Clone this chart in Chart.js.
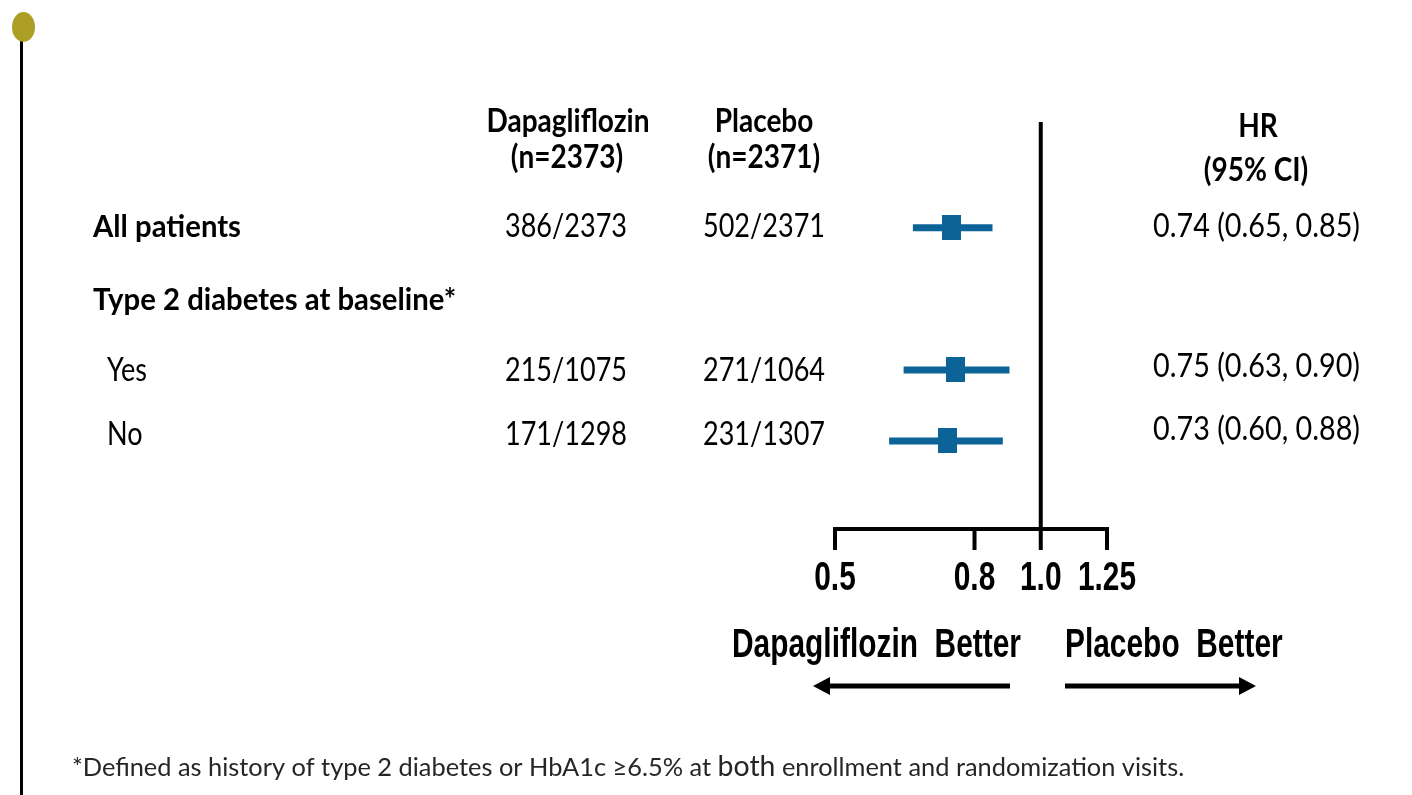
<!DOCTYPE html>
<html>
<head>
<meta charset="utf-8">
<script src="https://cdn.jsdelivr.net/npm/chart.js@4/dist/chart.umd.min.js"></script>
<style>
  html, body { margin: 0; padding: 0; background: #ffffff; }
  canvas { display: block; }
</style>
</head>
<body>
<canvas id="forest" width="1412" height="795"></canvas>
<script>
// Subgroup rows of the forest plot
const categories = ['All patients', 'Type 2 diabetes at baseline*', 'Yes', 'No'];
const dapaEvents = ['386/2373', '', '215/1075', '171/1298'];
const placeboEvents = ['502/2371', '', '271/1064', '231/1307'];
const hazardRatio = [0.74, null, 0.75, 0.73];
const ciLow = [0.65, null, 0.63, 0.60];
const ciHigh = [0.85, null, 0.90, 0.88];

// Column headers
const dapaHeader = ['Dapagliflozin', '(n=2373)'];
const placeboHeader = ['Placebo', '(n=2371)'];
const hrHeader = ['HR', '(95% CI)'];

// Hazard-ratio axis
const xTicks = [0.5, 0.8, 1.0, 1.25];
const xTickLabels = ['0.5', '0.8', '1.0', '1.25'];
const favourLeft = 'Dapagliflozin  Better';
const favourRight = 'Placebo  Better';

const footnoteParts = ['*Defined as history of type 2 diabetes or HbA1c \u22656.5% at ', 'both', ' enrollment and randomization visits.'];

const BLUE = '#0b6397';
const subgroupHeaderRows = [0, 1];   // rows set in bold at the left margin

// Marker: tall filled square drawn as an image point style
const marker = document.createElement('canvas');
marker.width = 19; marker.height = 25;
(function () {
  const m = marker.getContext('2d');
  m.fillStyle = BLUE;
  m.fillRect(0, 0, 19, 25);
})();

const ciSets = [];
const pointData = [];
categories.forEach((c, i) => {
  if (hazardRatio[i] == null) return;
  ciSets.push({
    data: [{ x: ciLow[i], y: i }, { x: ciHigh[i], y: i }],
    showLine: true,
    borderColor: BLUE,
    borderWidth: 7,
    borderCapStyle: 'butt',
    pointRadius: 0,
    order: 2
  });
  pointData.push({ x: hazardRatio[i], y: i });
});

const fmt = v => v.toFixed(2);

// Text styles: font, cap height and a reference string/width giving the horizontal condensing
const styles = {
  rowBold: { family: 'Lato', weight: '700', cap: 22, ratio: 0.72, ref: ['All patients', 148] },
  rowReg:  { family: 'Lato', weight: '400', cap: 23, ratio: 0.72, ref: ['386/2373', 122] },
  hrVal:   { family: 'Lato', weight: '400', cap: 23, ratio: 0.72, ref: ['0.74 (0.65, 0.85)', 207] },
  head:    { family: 'Lato', weight: '700', cap: 23, ratio: 0.72, ref: ['Dapagliflozin', 163] },
  axis:    { family: '"Liberation Sans Narrow", "Liberation Sans", Arial', weight: '700', cap: 29, ratio: 0.72, ref: ['Dapagliflozin  Better', 289] },
  note:    { family: 'Lato', weight: '400', cap: 18.5, ratio: 0.72, ref: [footnoteParts.join(''), 1106] }
};

function prep(ctx, st, scale) {
  const size = st.cap / st.ratio * (scale || 1);
  ctx.font = st.weight + ' ' + size + 'px ' + st.family;
}
function sxOf(ctx, st) {
  if (st.sx) return st.sx;
  prep(ctx, st);
  st.sx = st.ref[1] / ctx.measureText(st.ref[0]).width;
  return st.sx;
}
function text(ctx, st, str, x, base, align, color) {
  const sx = sxOf(ctx, st);
  prep(ctx, st);
  ctx.save();
  ctx.fillStyle = color || '#000';
  ctx.textAlign = align;
  ctx.textBaseline = 'alphabetic';
  ctx.translate(x, base);
  ctx.scale(sx, 1);
  ctx.fillText(str, 0, 0);
  ctx.restore();
}

function arrow(ctx, x0, x1, y) {
  const dir = Math.sign(x1 - x0);
  ctx.save();
  ctx.strokeStyle = '#000';
  ctx.fillStyle = '#000';
  ctx.lineWidth = 5;
  ctx.beginPath();
  ctx.moveTo(x0, y);
  ctx.lineTo(x1 - dir * 14, y);
  ctx.stroke();
  ctx.beginPath();
  ctx.moveTo(x1, y);
  ctx.lineTo(x1 - dir * 17, y - 9);
  ctx.lineTo(x1 - dir * 17, y + 9);
  ctx.closePath();
  ctx.fill();
  ctx.restore();
}

const forestDecor = {
  id: 'forestDecor',
  beforeDraw(chart) {
    const ctx = chart.ctx;
    ctx.save();
    ctx.fillStyle = '#ffffff';
    ctx.fillRect(0, 0, chart.width, chart.height);
    // slide margin rule with its bullet
    ctx.fillStyle = '#000';
    ctx.fillRect(20, 30, 3, chart.height - 30);
    ctx.fillStyle = '#ad9e25';
    ctx.beginPath();
    ctx.ellipse(23.5, 27, 11.5, 15, 0, 0, Math.PI * 2);
    ctx.fill();
    ctx.restore();

    // reference line at HR = 1 and the bracket axis
    const xs = chart.scales.x, a = chart.chartArea;
    const x1 = xs.getPixelForValue(1);
    ctx.save();
    ctx.strokeStyle = '#000';
    ctx.lineWidth = 4;
    ctx.beginPath();
    ctx.moveTo(x1, a.top);
    ctx.lineTo(x1, a.bottom);
    ctx.moveTo(xs.getPixelForValue(xTicks[0]) - 2, a.bottom);
    ctx.lineTo(xs.getPixelForValue(xTicks[xTicks.length - 1]) + 2, a.bottom);
    xTicks.forEach(t => {
      const px = xs.getPixelForValue(t);
      ctx.moveTo(px, a.bottom);
      ctx.lineTo(px, a.bottom + 21);
    });
    ctx.stroke();
    ctx.restore();
  },
  afterDraw(chart) {
    const ctx = chart.ctx;
    const xs = chart.scales.x, ys = chart.scales.y, a = chart.chartArea;

    // column headers
    text(ctx, styles.head, dapaHeader[0], 568, 132, 'center');
    text(ctx, styles.head, dapaHeader[1], 567, 168, 'center');
    text(ctx, styles.head, placeboHeader[0], 764, 132, 'center');
    text(ctx, styles.head, placeboHeader[1], 764, 168, 'center');
    text(ctx, styles.head, hrHeader[0], 1258, 137, 'center');
    text(ctx, styles.head, hrHeader[1], 1256, 181, 'center');

    // rows
    const nudge = [-2, 0, 0, -7];
    const hrNudge = [-2, -4, -4, -12];
    categories.forEach((c, i) => {
      const py = ys.getPixelForValue(i);
      const isHead = subgroupHeaderRows.includes(i);
      const st = isHead ? styles.rowBold : styles.rowReg;
      const base = py + st.cap / 2 + nudge[i];
      text(ctx, st, c, isHead ? 93 : 107, base, 'left');
      if (dapaEvents[i]) text(ctx, styles.rowReg, dapaEvents[i], 566, base, 'center');
      if (placeboEvents[i]) text(ctx, styles.rowReg, placeboEvents[i], 764, base, 'center');
      if (hazardRatio[i] != null) {
        const lbl = fmt(hazardRatio[i]) + ' (' + fmt(ciLow[i]) + ', ' + fmt(ciHigh[i]) + ')';
        text(ctx, styles.hrVal, lbl, 1153, py + styles.hrVal.cap / 2 + hrNudge[i], 'left');
      }
    });

    // tick labels
    xTicks.forEach((t, k) => {
      text(ctx, styles.axis, xTickLabels[k], xs.getPixelForValue(t), a.bottom + 61, 'center');
    });

    // direction labels and arrows
    text(ctx, styles.axis, favourLeft, 732, 657, 'left');
    text(ctx, styles.axis, favourRight, 1065, 657, 'left');
    arrow(ctx, 1010, 813, 686);
    arrow(ctx, 1065, 1256, 686);

    // footnote
    const st = styles.note;
    const sx = sxOf(ctx, st);
    let x = 72;
    footnoteParts.forEach((part, k) => {
      const scale = k === 1 ? 1.12 : 1;
      prep(ctx, st, scale);
      const w = ctx.measureText(part).width * sx;
      ctx.save();
      ctx.fillStyle = '#262626';
      ctx.textAlign = 'left';
      ctx.translate(x, 776);
      ctx.scale(sx, 1);
      ctx.fillText(part, 0, 0);
      ctx.restore();
      x += w;
    });
  }
};

new Chart(document.getElementById('forest'), {
  type: 'scatter',
  data: {
    datasets: [
      {
        data: pointData,
        pointStyle: marker,
        pointRadius: 12,
        backgroundColor: BLUE,
        borderColor: BLUE,
        order: 1
      },
      ...ciSets
    ]
  },
  options: {
    responsive: false,
    animation: false,
    devicePixelRatio: 1,
    clip: false,
    layout: { padding: { left: 835, right: 305, top: 122, bottom: 266 } },
    plugins: { legend: { display: false }, tooltip: { enabled: false } },
    scales: {
      x: { type: 'logarithmic', min: 0.5, max: 1.25, display: false },
      y: { type: 'linear', min: -1.49, max: 4.24, reverse: true, display: false }
    }
  },
  plugins: [forestDecor]
});
</script>
</body>
</html>
